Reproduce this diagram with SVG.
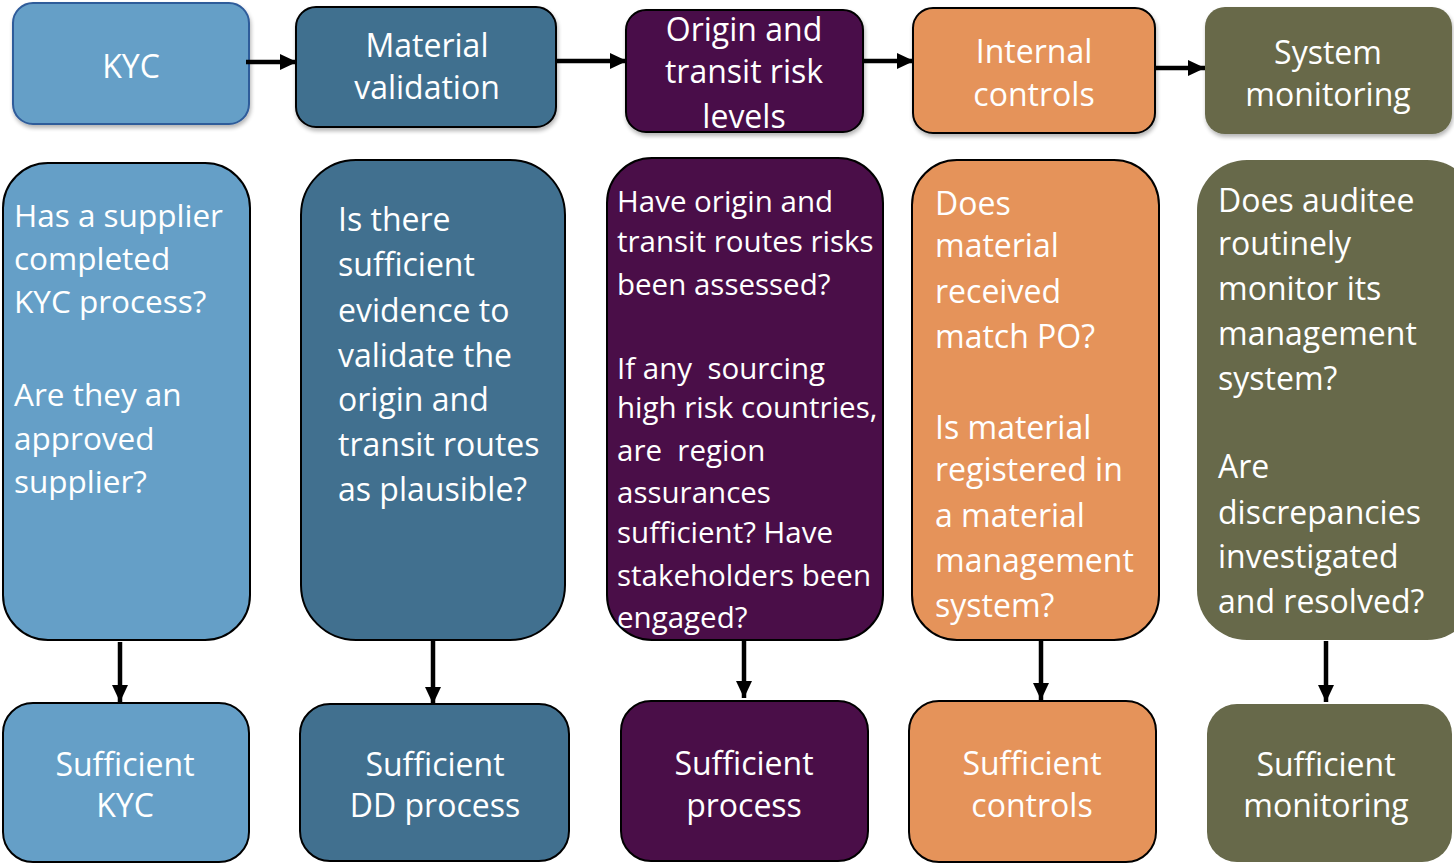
<svg xmlns="http://www.w3.org/2000/svg" width="1454" height="865" viewBox="0 0 1454 865">
  <style>
    .t { font-family: "Open Sans", "Noto Sans", "DejaVu Sans", sans-serif; fill: #ffffff; font-size: 32px; white-space: pre; }
    .c { text-anchor: middle; }
    .kyc { fill: #659FC7; }
    .mat { fill: #41708F; }
    .org { fill: #4A0E48; }
    .ctl { fill: #E5935A; }
    .mon { fill: #67694A; }
    .edge { stroke: #000000; stroke-width: 2; }
    .conn { stroke: #000000; stroke-width: 4.5; fill: none; marker-end: url(#arrow); }
  </style>
  <defs>
    <marker id="arrow" markerUnits="userSpaceOnUse" markerWidth="20" markerHeight="20" viewBox="0 0 20 20" refX="17" refY="10" orient="auto">
      <path d="M0,2 L17,10 L0,18 Z" fill="#000000"/>
    </marker>
    <filter id="shadow" x="-10%" y="-10%" width="125%" height="130%">
      <feGaussianBlur in="SourceAlpha" stdDeviation="2"/>
      <feOffset dx="1" dy="3" result="b"/>
      <feComponentTransfer><feFuncA type="linear" slope="0.3"/></feComponentTransfer>
      <feMerge><feMergeNode/><feMergeNode in="SourceGraphic"/></feMerge>
    </filter>
  </defs>

  <rect width="1454" height="865" fill="#ffffff"/>

  <!-- Top row: process stages -->
  <g id="stage-kyc">
    <rect class="kyc" x="13" y="3" width="236" height="121" rx="20" stroke="#2F5B9A" stroke-width="2" filter="url(#shadow)"/>
    <text class="t c" x="131" y="78">KYC</text>
  </g>
  <g id="stage-material">
    <rect class="mat edge" x="296" y="7" width="260" height="120" rx="20" filter="url(#shadow)"/>
    <text class="t c" x="427" y="57">Material</text>
    <text class="t c" x="427" y="99">validation</text>
  </g>
  <g id="stage-origin">
    <rect class="org edge" x="626" y="10" width="237" height="122" rx="20" filter="url(#shadow)"/>
    <text class="t c" x="744" y="41">Origin and</text>
    <text class="t c" x="744" y="83">transit risk</text>
    <text class="t c" x="744" y="128">levels</text>
  </g>
  <g id="stage-controls">
    <rect class="ctl edge" x="913" y="8" width="242" height="125" rx="20" filter="url(#shadow)"/>
    <text class="t c" x="1034" y="63">Internal</text>
    <text class="t c" x="1034" y="106">controls</text>
  </g>
  <g id="stage-monitoring">
    <rect class="mon" x="1205" y="7" width="247" height="127" rx="20" filter="url(#shadow)"/>
    <text class="t c" x="1328" y="64">System</text>
    <text class="t c" x="1328" y="106">monitoring</text>
  </g>

  <!-- Middle row: audit questions -->
  <g id="question-kyc">
    <rect class="kyc edge" x="3" y="163" width="247" height="477" rx="45"/>
    <g class="t" style="font-size:31.5px">
      <text x="14" y="227">Has a supplier</text>
      <text x="14" y="270">completed</text>
      <text x="14" y="313">KYC process?</text>
      <text x="14" y="406">Are they an</text>
      <text x="14" y="450">approved</text>
      <text x="14" y="493">supplier?</text>
    </g>
  </g>
  <g id="question-material">
    <rect class="mat edge" x="301" y="160" width="264" height="480" rx="55"/>
    <g class="t">
      <text x="338" y="231">Is there</text>
      <text x="338" y="276">sufficient</text>
      <text x="338" y="322">evidence to</text>
      <text x="338" y="367">validate the</text>
      <text x="338" y="411">origin and</text>
      <text x="338" y="456">transit routes</text>
      <text x="338" y="501">as plausible?</text>
    </g>
  </g>
  <g id="question-origin">
    <rect class="org edge" x="607" y="158" width="276" height="482" rx="45"/>
    <g class="t" style="font-size:29.5px">
      <text x="617" y="211.5">Have origin and</text>
      <text x="617" y="251.5">transit routes risks</text>
      <text x="617" y="294.5">been assessed?</text>
      <text x="617" y="378.5" xml:space="preserve">If any  sourcing</text>
      <text x="617" y="417.5">high risk countries,</text>
      <text x="617" y="460.5" xml:space="preserve">are  region</text>
      <text x="617" y="502.5">assurances</text>
      <text x="617" y="542.5">sufficient? Have</text>
      <text x="617" y="585.5">stakeholders been</text>
      <text x="617" y="627.5">engaged?</text>
    </g>
  </g>
  <g id="question-controls">
    <rect class="ctl edge" x="912" y="160" width="247" height="480" rx="45"/>
    <g class="t">
      <text x="935" y="215">Does</text>
      <text x="935" y="257">material</text>
      <text x="935" y="303">received</text>
      <text x="935" y="348">match PO?</text>
      <text x="935" y="439">Is material</text>
      <text x="935" y="481">registered in</text>
      <text x="935" y="527">a material</text>
      <text x="935" y="572">management</text>
      <text x="935" y="617">system?</text>
    </g>
  </g>
  <g id="question-monitoring">
    <rect class="mon" x="1197" y="160" width="280" height="480" rx="50"/>
    <g class="t">
      <text x="1218" y="212">Does auditee</text>
      <text x="1218" y="255">routinely</text>
      <text x="1218" y="300">monitor its</text>
      <text x="1218" y="345">management</text>
      <text x="1218" y="390">system?</text>
      <text x="1218" y="478">Are</text>
      <text x="1218" y="524">discrepancies</text>
      <text x="1218" y="568">investigated</text>
      <text x="1218" y="613">and resolved?</text>
    </g>
  </g>

  <!-- Bottom row: outcomes -->
  <g id="outcome-kyc">
    <rect class="kyc edge" x="3" y="703" width="246" height="159" rx="30"/>
    <text class="t c" x="125" y="776">Sufficient</text>
    <text class="t c" x="125" y="817">KYC</text>
  </g>
  <g id="outcome-material">
    <rect class="mat edge" x="300" y="704" width="269" height="157" rx="30"/>
    <text class="t c" x="435" y="776">Sufficient</text>
    <text class="t c" x="435" y="817">DD process</text>
  </g>
  <g id="outcome-origin">
    <rect class="org edge" x="621" y="701" width="247" height="160" rx="30"/>
    <text class="t c" x="744" y="775">Sufficient</text>
    <text class="t c" x="744" y="817">process</text>
  </g>
  <g id="outcome-controls">
    <rect class="ctl edge" x="909" y="701" width="247" height="161" rx="30"/>
    <text class="t c" x="1032" y="775">Sufficient</text>
    <text class="t c" x="1032" y="817">controls</text>
  </g>
  <g id="outcome-monitoring">
    <rect class="mon" x="1207" y="704" width="245" height="158" rx="30"/>
    <text class="t c" x="1326" y="776">Sufficient</text>
    <text class="t c" x="1326" y="817">monitoring</text>
  </g>

  <!-- Connectors -->
  <g id="connectors">
    <line class="conn" x1="246" y1="62" x2="297" y2="62"/>
    <line class="conn" x1="556" y1="61" x2="627" y2="61"/>
    <line class="conn" x1="863" y1="61" x2="914" y2="61"/>
    <line class="conn" x1="1155" y1="68" x2="1205" y2="68"/>
    <line class="conn" x1="120" y1="642" x2="120" y2="702"/>
    <line class="conn" x1="433" y1="641" x2="433" y2="704"/>
    <line class="conn" x1="744" y1="641" x2="744" y2="698"/>
    <line class="conn" x1="1041" y1="641" x2="1041" y2="700"/>
    <line class="conn" x1="1326" y1="641" x2="1326" y2="702"/>
  </g>
</svg>
